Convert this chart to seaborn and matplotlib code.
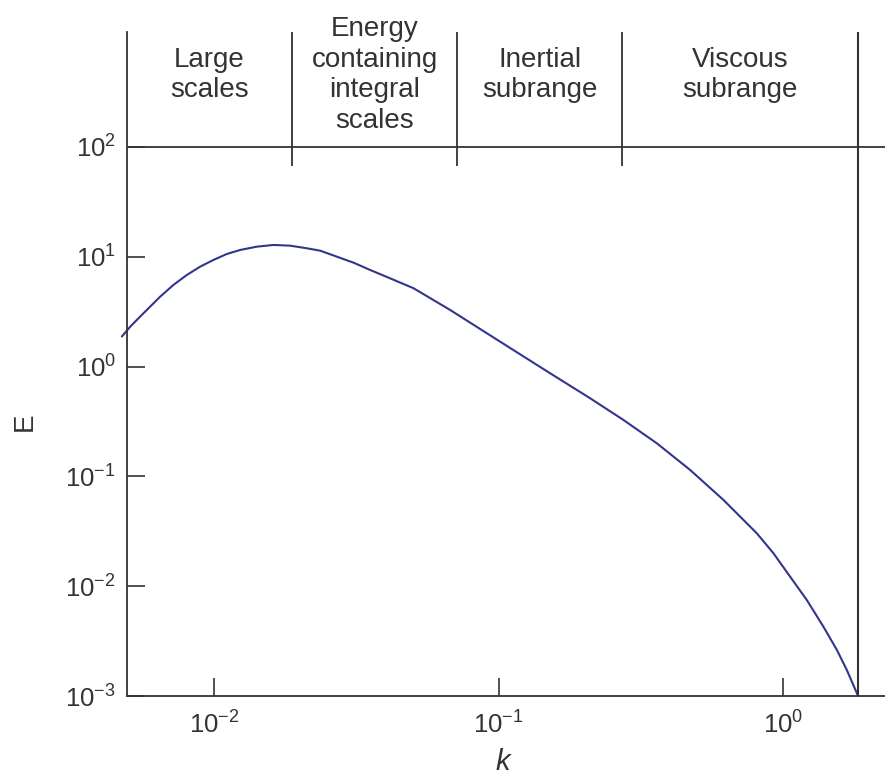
import numpy as np
import pandas as pd
import matplotlib
matplotlib.use("Agg")
import matplotlib.pyplot as plt
import seaborn as sns

# energy spectrum (log-log)
K = [0.00474, 0.00507, 0.00549, 0.005957, 0.00646, 0.00719, 0.00802, 0.00893,
     0.00994, 0.01108, 0.01234, 0.01413, 0.01616, 0.0185, 0.02117, 0.02359,
     0.0270, 0.03088, 0.0349, 0.0415, 0.0502, 0.0675, 0.1012, 0.1517,
     0.2097, 0.2746, 0.3597, 0.4711, 0.6169, 0.7062, 0.808, 0.9245,
     1.058, 1.211, 1.385, 1.545, 1.674, 1.816, 1.835]
E = [1.88, 2.308, 2.848, 3.512, 4.33, 5.536, 6.83, 8.125,
     9.35, 10.6, 11.53, 12.36, 12.81, 12.62, 11.95, 11.36,
     10.02, 8.84, 7.69, 6.37, 5.17, 3.28, 1.686, 0.869,
     0.5145, 0.3264, 0.2002, 0.1144, 0.0610, 0.04295, 0.0303, 0.01994,
     0.01221, 0.00748, 0.00428, 0.002624, 0.001725, 0.00106, 0.001]

# region boundaries (k) and labels
DIVIDERS = [0.0188, 0.0714, 0.2716]
K_END = 1.835
REGION_LABELS = ["Large\nscales", "Energy\ncontaining\nintegral\nscales",
                 "Inertial\nsubrange", "Viscous\nsubrange"]

X_LIM = (4.94e-3, 2.28)
Y_LIM = (1e-3, 1114)

sns.set_style("white")
plt.rcParams["font.family"] = ["Liberation Sans", "DejaVu Sans"]
plt.rcParams["mathtext.fontset"] = "custom"
plt.rcParams["mathtext.rm"] = "Liberation Sans"
plt.rcParams["mathtext.it"] = "Liberation Sans:italic"

INK = "#333333"
LINE = "#32358c"

df = pd.DataFrame({"k": K, "E": E})

fig = plt.figure(figsize=(8.85, 7.78), dpi=100)
ax = fig.add_axes([127 / 885, 82 / 778, 758 / 885, 664 / 778])

sns.lineplot(data=df, x="k", y="E", ax=ax, sort=False, estimator=None,
             color=LINE, linewidth=1.5)
ax.lines[0].set_clip_on(False)

ax.set_xscale("log")
ax.set_yscale("log")
ax.set_xlim(*X_LIM)
ax.set_ylim(*Y_LIM)

ax.set_xticks([1e-2, 1e-1, 1e0])
ax.set_yticks([1e-3, 1e-2, 1e-1, 1e0, 1e1, 1e2])
ax.minorticks_off()
ax.tick_params(direction="in", length=13, width=1.2, labelsize=18.5,
               colors=INK, labelcolor=INK, bottom=True, left=True)
ax.tick_params(axis="x", pad=11)
ax.tick_params(axis="y", pad=8)

for s in ["top", "right"]:
    ax.spines[s].set_visible(False)
for s in ["left", "bottom"]:
    ax.spines[s].set_color(INK)
    ax.spines[s].set_linewidth(1.3)

# header band and region dividers
ax.axhline(100, color=INK, lw=1.3)
ax.axvline(K_END, color=INK, lw=1.5)
ax.vlines(DIVIDERS, 67, Y_LIM[1], color=INK, lw=1.3)

bounds = [X_LIM[0]] + DIVIDERS + [K_END]
for i, lab in enumerate(REGION_LABELS):
    xc = np.sqrt(bounds[i] * bounds[i + 1])
    ax.text(xc, 453, lab, ha="center", va="center", fontsize=20,
            color=INK, linespacing=1.22, multialignment="center")

ax.set_xlabel("$k$", fontsize=21, color=INK)
ax.set_ylabel("E", fontsize=20, color=INK)
ax.xaxis.set_label_coords(0.497, -0.079)
ax.yaxis.set_label_coords(-0.118, 0.413)

fig.savefig("out.png", dpi=100)
